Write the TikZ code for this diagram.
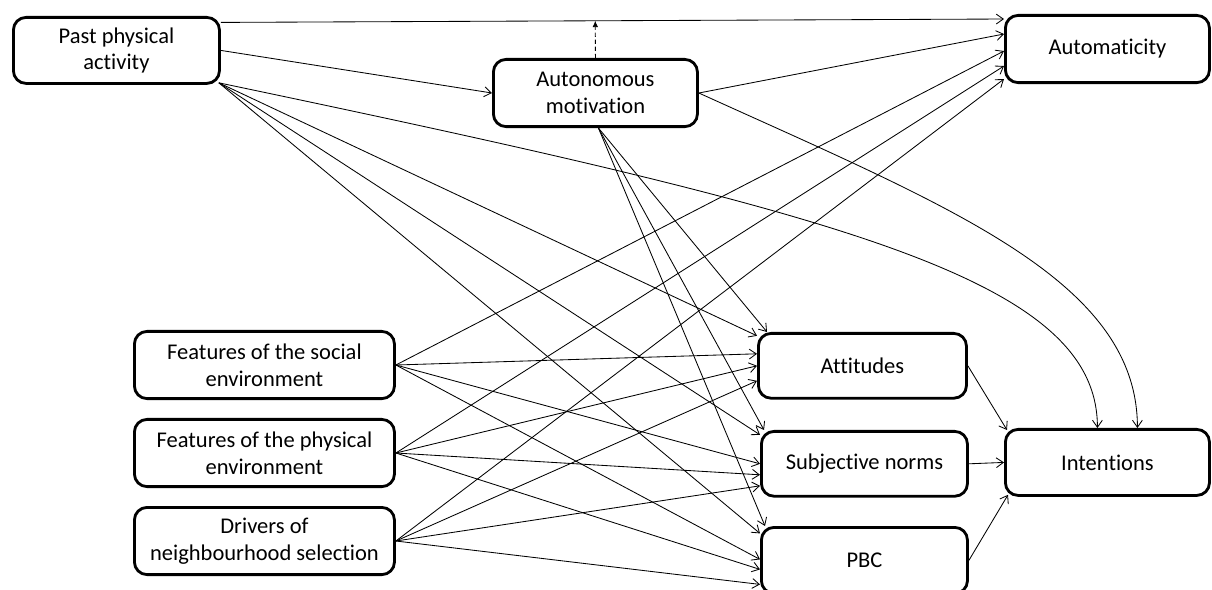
\documentclass[tikz,border=0pt]{standalone}
\usepackage{fontspec}
\setmainfont{Carlito}[Ligatures={NoCommon}]
\usetikzlibrary{arrows.meta,calc}

\begin{document}
\begin{tikzpicture}[x=0.025cm, y=-0.025cm,
            box/.style={
                draw,
                line width=2pt,
                rounded corners=9pt,
                fill=white,
                align=center,
                inner sep=2pt,
                font=\fontsize{16}{19}\selectfont
            },
            link/.style={
                line width=0.6pt,
                -{Straight Barb[length=5pt,width=7pt]}
            }
        ]
        \useasboundingbox (0,0) rectangle (1212,590);

        % Past behaviour, motivation and habit (top row)
        \node[box,
            minimum width=5.15cm,
            minimum height=1.65cm,
            anchor=north west
        ] (past) at (12,16) {Past physical\\activity};

        \node[box,
            minimum width=5.1cm,
            minimum height=1.68cm,
            anchor=north west
        ] (auton) at (492,58) {Autonomous\\motivation};

        \node[box,
            minimum width=5.1cm,
            minimum height=1.68cm,
            anchor=north west
        ] (autom) at (1004,14) {Automaticity};

        % Neighbourhood environment (left column)
        \node[box,
            minimum width=6.5cm,
            minimum height=1.68cm,
            anchor=north west
        ] (social) at (133,330) {Features of the social\\environment};

        \node[box,
            minimum width=6.5cm,
            minimum height=1.68cm,
            anchor=north west
        ] (physical) at (133,418) {Features of the physical\\environment};

        \node[box,
            minimum width=6.5cm,
            minimum height=1.68cm,
            anchor=north west
        ] (drivers) at (133,506) {Drivers of\\neighbourhood selection};

        % Theory of planned behaviour (right)
        \node[box,
            minimum width=5.2cm,
            minimum height=1.62cm,
            anchor=north west
        ] (attitudes) at (757,332) {Attitudes};

        \node[box,
            minimum width=5.15cm,
            minimum height=1.62cm,
            anchor=north west
        ] (norms) at (760,430) {Subjective norms};

        \node[box,
            minimum width=5.15cm,
            minimum height=1.65cm,
            anchor=north west
        ] (pbc) at (760,526) {PBC};

        \node[box,
            minimum width=5.1cm,
            minimum height=1.65cm,
            anchor=north west
        ] (intent) at (1004,428) {Intentions};

        % Helper points
        \coordinate (pastcorner) at ($(past.south east)+(-2,-2)$);
        \coordinate (pasttop) at ($(past.east)+(0,-28)$);
        \coordinate (automtop) at ($(autom.west)+(0,-30)$);
        \coordinate (moderate) at ($(pasttop)!(auton.north)!(automtop)$);
        \coordinate (autonbottom) at ($(auton.south)+(3,0)$);

        % Past physical activity
        \draw[link] (pasttop) -- (automtop);
        \draw[line width=0.6pt, dash pattern=on 3pt off 2pt,
            -{Latex[length=4.5pt,width=4pt]}] (auton.north) -- (moderate);
        \draw[link] (past.east) -- (auton.west);
        \draw[link] (pastcorner) -- ($(attitudes.west)+(0,-30)$);
        \draw[link] (pastcorner) -- ($(norms.west)+(0,-29)$);
        \draw[link] (pastcorner) -- ($(pbc.west)+(0,-27)$);
        \draw[link] (pastcorner) .. controls (850,215) and (1097,280)
            .. ($(intent.north)+(-10,0)$);

        % Autonomous motivation
        \draw[link] (auton.east) -- ($(autom.west)+(0,-15)$);
        \draw[link] (auton.east) .. controls (950,207) and (1137,280)
            .. ($(intent.north)+(30,0)$);
        \draw[link] (autonbottom) -- ($(attitudes.north west)+(10,0)$);
        \draw[link] (autonbottom) -- ($(norms.north west)+(4,0)$);
        \draw[link] (autonbottom) -- ($(pbc.north west)+(5,0)$);

        % Environment to habit and beliefs
        \foreach \src/\da/\db/\dc/\dd in {social/2/-12/0/-1,
                physical/17/0/11/9, drivers/30/15/22/24} {
            \draw[link] (\src.east) -- ($(autom.west)+(0,\da)$);
            \draw[link] (\src.east) -- ($(attitudes.west)+(0,\db)$);
            \draw[link] (\src.east) -- ($(norms.west)+(0,\dc)$);
            \draw[link] (\src.east) -- ($(pbc.west)+(0,\dd)$);
        }

        % Beliefs to intentions
        \draw[link] (attitudes.east) -- ($(intent.north west)+(3,2)$);
        \draw[link] (norms.east) -- (intent.west);
        \draw[link] (pbc.east) -- ($(intent.south west)+(4,-2)$);
\end{tikzpicture}
\end{document}
